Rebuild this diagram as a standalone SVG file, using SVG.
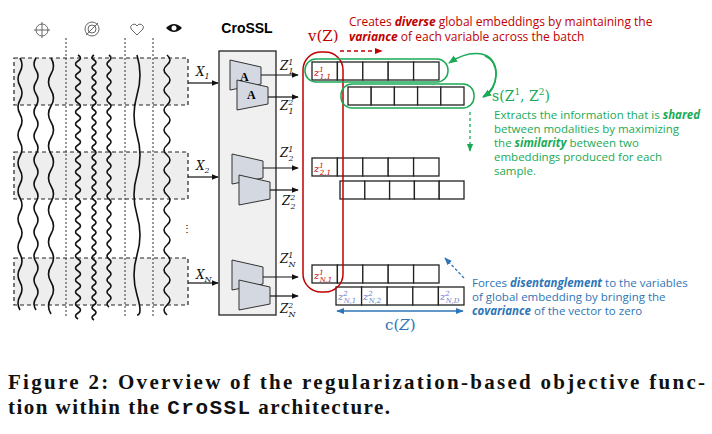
<svg xmlns="http://www.w3.org/2000/svg" width="712" height="434" viewBox="0 0 712 434">
<style>
.sig{fill:none;stroke:#111;stroke-width:1.6}
.dbox{fill:#eeeeee;stroke:#222;stroke-width:1.2;stroke-dasharray:4 3}
.enc{fill:#d4d8e0;stroke:#333;stroke-width:1}
.cell{fill:#fff;stroke:#222;stroke-width:1.3}
.ln{stroke:#111;stroke-width:1.2;fill:none}
.m{font-family:"DejaVu Serif",serif;font-style:italic;font-size:12px;fill:#111}
.red{font-family:"Open Sans","Liberation Sans",sans-serif;font-size:12px;fill:#c00000}
.grn{font-family:"Open Sans","Liberation Sans",sans-serif;font-size:11.5px;fill:#1aaa55}
.blu{font-family:"Open Sans","Liberation Sans",sans-serif;font-size:11.5px;fill:#2e75b6}
.cap{font-family:"Liberation Serif",serif;font-weight:bold;font-size:21px;fill:#111}
</style>
<defs>
<marker id="ah" viewBox="0 0 10 10" refX="9" refY="5" markerWidth="6" markerHeight="6" orient="auto"><path d="M0,1L10,5L0,9z" fill="#111"/></marker>
<marker id="ahg" viewBox="0 0 10 10" refX="9" refY="5" markerWidth="6" markerHeight="6" orient="auto"><path d="M0,1L10,5L0,9z" fill="#1aaa55"/></marker>
<marker id="ahr" viewBox="0 0 10 10" refX="9" refY="5" markerWidth="6" markerHeight="6" orient="auto"><path d="M0,1L10,5L0,9z" fill="#c00000"/></marker>
<marker id="ahb" viewBox="0 0 10 10" refX="9" refY="5" markerWidth="6" markerHeight="6" orient="auto-start-reverse"><path d="M0,1L10,5L0,9z" fill="#2e75b6"/></marker>
</defs>
<g id="signals">
<rect class="dbox" x="14" y="58" width="174" height="47"/>
<rect class="dbox" x="14" y="152" width="174" height="47"/>
<rect class="dbox" x="14" y="258" width="174" height="47"/>
<g stroke="#333" stroke-width="1" stroke-dasharray="2 2">
<line x1="66" y1="38" x2="66" y2="318"/><line x1="125" y1="38" x2="125" y2="318"/><line x1="153" y1="38" x2="153" y2="318"/>
</g>
<path class="sig" d="M20 58 q4 7 0 14 t0 14 t0 14 t0 14 t0 14 t0 14 t0 14 t0 14 t0 14 t0 14 t0 14 t0 14 t0 14 t0 14 t0 14 t0 14 t0 14 t0 14"/>
<path class="sig" d="M36 58 q-4 6 0 12 t0 12 t0 12 t0 12 t0 12 t0 12 t0 12 t0 12 t0 12 t0 12 t0 12 t0 12 t0 12 t0 12 t0 12 t0 12 t0 12 t0 12 t0 12 t0 12 t0 12"/>
<path class="sig" d="M51 58 q5 8 0 16 t0 16 t0 16 t0 16 t0 16 t0 16 t0 16 t0 16 t0 16 t0 16 t0 16 t0 16 t0 16 t0 16 t0 16 t0 16"/>
<path class="sig" d="M78 55 q5 3 0 6 t0 6 t0 6 t0 6 t0 6 t0 6 t0 6 t0 6 t0 6 t0 6 t0 6 t0 6 t0 6 t0 6 t0 6 t0 6 t0 6 t0 6 t0 6 t0 6 t0 6 t0 6 t0 6 t0 6 t0 6 t0 6 t0 6 t0 6 t0 6 t0 6 t0 6 t0 6 t0 6 t0 6 t0 6 t0 6 t0 6 t0 6 t0 6 t0 6 t0 6 t0 6 t0 6 t0 6"/>
<path class="sig" d="M94 55 q-4 2.5 0 5 t0 5 t0 5 t0 5 t0 5 t0 5 t0 5 t0 5 t0 5 t0 5 t0 5 t0 5 t0 5 t0 5 t0 5 t0 5 t0 5 t0 5 t0 5 t0 5 t0 5 t0 5 t0 5 t0 5 t0 5 t0 5 t0 5 t0 5 t0 5 t0 5 t0 5 t0 5 t0 5 t0 5 t0 5 t0 5 t0 5 t0 5 t0 5 t0 5 t0 5 t0 5 t0 5 t0 5 t0 5 t0 5 t0 5 t0 5 t0 5 t0 5 t0 5 t0 5 t0 5"/>
<path class="sig" d="M109 55 q4 3 0 6 t0 6 t0 6 t0 6 t0 6 t0 6 t0 6 t0 6 t0 6 t0 6 t0 6 t0 6 t0 6 t0 6 t0 6 t0 6 t0 6 t0 6 t0 6 t0 6 t0 6 t0 6 t0 6 t0 6 t0 6 t0 6 t0 6 t0 6 t0 6 t0 6 t0 6 t0 6 t0 6 t0 6 t0 6 t0 6 t0 6 t0 6 t0 6 t0 6 t0 6 t0 6"/>
<path class="sig" d="M137 55 q6 20 0 40 t0 40 t0 40 t0 40 t0 40 t0 40 t0 20"/>
<path class="sig" d="M167 55 q6 5 0 10 t0 10 t0 10 t0 10 t0 10 t0 10 t0 10 t0 10 t0 10 t0 10 t0 10 t0 10 t0 10 t0 10 t0 10 t0 10 t0 10 t0 10 t0 10 t0 10 t0 10 t0 10 t0 10 t0 10 t0 10 t0 10"/>
<text x="182" y="232" font-family="Liberation Sans,sans-serif" font-size="10">⋮</text>
<g fill="none" stroke="#666" stroke-width="1">
<circle cx="42" cy="30" r="6"/><line x1="34" y1="30" x2="50" y2="30"/><line x1="42" y1="22" x2="42" y2="38"/>
<circle cx="92" cy="29" r="7"/><circle cx="92" cy="29" r="4"/><line x1="86" y1="35" x2="98" y2="23"/>
<path d="M137 35 l-6 -6 a3 3 0 0 1 6 -3 a3 3 0 0 1 6 3 z"/>
</g>
<path d="M166 28 q8 -8 16 0 q-8 8 -16 0z" fill="#111"/><circle cx="174" cy="28" r="2.5" fill="#fff"/>
</g>
<g id="crossl">
<text x="247" y="33" text-anchor="middle" font-family="Liberation Sans,sans-serif" font-weight="bold" font-size="14">CroSSL</text>
<rect x="219" y="51" width="57" height="264" fill="#f0f0f0" stroke="#222" stroke-width="1.3"/>
<path class="enc" d="M230 60 L261 67 L261 84 L230 90z"/>
<path class="enc" d="M237 80 L268 87 L268 104 L237 110z"/>
<text x="240" y="81" font-family="Liberation Serif,serif" font-weight="bold" font-size="12">A</text>
<text x="247" y="99" font-family="Liberation Serif,serif" font-weight="bold" font-size="12">A</text>
<path class="enc" d="M232 154 L263 161 L263 178 L232 184z"/>
<path class="enc" d="M239 175 L270 182 L270 199 L239 205z"/>
<path class="enc" d="M232 260 L263 267 L263 284 L232 290z"/>
<path class="enc" d="M239 280 L270 287 L270 304 L239 310z"/>
</g>
<g id="connectors">
<line class="ln" x1="188" y1="83" x2="218" y2="83" marker-end="url(#ah)"/>
<line class="ln" x1="188" y1="177" x2="218" y2="177" marker-end="url(#ah)"/>
<line class="ln" x1="188" y1="283" x2="218" y2="283" marker-end="url(#ah)"/>
<line class="ln" x1="261" y1="75" x2="298" y2="75" marker-end="url(#ah)"/>
<line class="ln" x1="268" y1="97" x2="298" y2="97" marker-end="url(#ah)"/>
<line class="ln" x1="263" y1="168" x2="298" y2="168" marker-end="url(#ah)"/>
<line class="ln" x1="270" y1="190" x2="298" y2="190" marker-end="url(#ah)"/>
<line class="ln" x1="263" y1="277" x2="298" y2="277" marker-end="url(#ah)"/>
<line class="ln" x1="270" y1="296" x2="298" y2="296" marker-end="url(#ah)"/>
<line x1="340" y1="51" x2="382" y2="51" stroke="#c00000" stroke-width="1.3" stroke-dasharray="4 3" marker-end="url(#ahr)"/>
<path d="M484 97 C500 88 500 60 485 55 C472 51 458 57 449 63" fill="none" stroke="#1aaa55" stroke-width="1.5" marker-end="url(#ahg)"/>
<path d="M485 56 C500 62 500 86 483 97" fill="none" stroke="#1aaa55" stroke-width="1.5" marker-end="url(#ahg)"/>
<line x1="470" y1="112" x2="470" y2="151" stroke="#1aaa55" stroke-width="1.3" stroke-dasharray="3 3" marker-end="url(#ahg)"/>
<line x1="464" y1="278" x2="445" y2="258" stroke="#2e75b6" stroke-width="1.3" stroke-dasharray="3 2" marker-end="url(#ahb)"/>
<line x1="337" y1="311" x2="463" y2="311" stroke="#2e75b6" stroke-width="1.3" marker-start="url(#ahb)" marker-end="url(#ahb)"/>
</g>
<g id="labels">
<text class="m" x="196" y="76">X<tspan font-size="8" dy="3">1</tspan></text>
<text class="m" x="196" y="170">X<tspan font-size="8" dy="3">2</tspan></text>
<text class="m" x="196" y="279">X<tspan font-size="8" dy="3">N</tspan></text>
<text class="m" x="280" y="70">Z<tspan font-size="8" dy="-5">1</tspan><tspan font-size="8" dx="-5" dy="9">1</tspan></text>
<text class="m" x="280" y="110">Z<tspan font-size="8" dy="-5">2</tspan><tspan font-size="8" dx="-5" dy="9">1</tspan></text>
<text class="m" x="280" y="157">Z<tspan font-size="8" dy="-5">1</tspan><tspan font-size="8" dx="-5" dy="9">2</tspan></text>
<text class="m" x="282" y="205">Z<tspan font-size="8" dy="-5">2</tspan><tspan font-size="8" dx="-5" dy="9">2</tspan></text>
<text class="m" x="280" y="263">Z<tspan font-size="8" dy="-5">1</tspan><tspan font-size="8" dx="-5" dy="9">N</tspan></text>
<text class="m" x="280" y="313">Z<tspan font-size="8" dy="-5">2</tspan><tspan font-size="8" dx="-5" dy="9">N</tspan></text>
</g>
<g id="embeddings">
<g class="cell"><rect x="312" y="62" width="25.4" height="18"/><rect x="337.4" y="62" width="25.4" height="18"/><rect x="362.8" y="62" width="25.4" height="18"/><rect x="388.2" y="62" width="25.4" height="18"/><rect x="413.6" y="62" width="25.4" height="18"/></g>
<g class="cell"><rect x="348" y="87" width="23.2" height="18"/><rect x="371.2" y="87" width="23.2" height="18"/><rect x="394.4" y="87" width="23.2" height="18"/><rect x="417.6" y="87" width="23.2" height="18"/><rect x="440.8" y="87" width="23.2" height="18"/></g>
<g class="cell"><rect x="312" y="158" width="25.4" height="18"/><rect x="337.4" y="158" width="25.4" height="18"/><rect x="362.8" y="158" width="25.4" height="18"/><rect x="388.2" y="158" width="25.4" height="18"/><rect x="413.6" y="158" width="25.4" height="18"/></g>
<g class="cell"><rect x="340" y="181" width="24.8" height="18"/><rect x="364.8" y="181" width="24.8" height="18"/><rect x="389.6" y="181" width="24.8" height="18"/><rect x="414.4" y="181" width="24.8" height="18"/><rect x="439.2" y="181" width="24.8" height="18"/></g>
<g class="cell"><rect x="312" y="265" width="25.4" height="18"/><rect x="337.4" y="265" width="25.4" height="18"/><rect x="362.8" y="265" width="25.4" height="18"/><rect x="388.2" y="265" width="25.4" height="18"/><rect x="413.6" y="265" width="25.4" height="18"/></g>
<g class="cell"><rect x="336" y="287" width="25.6" height="18"/><rect x="361.6" y="287" width="25.6" height="18"/><rect x="387.2" y="287" width="25.6" height="18"/><rect x="412.8" y="287" width="25.6" height="18"/><rect x="438.4" y="287" width="25.6" height="18"/></g>
<g font-family="DejaVu Serif,serif" font-style="italic" font-size="10" fill="#c00000">
<text x="314" y="76">z<tspan font-size="7" dy="-4">1</tspan><tspan font-size="7" dx="-4" dy="7">1,1</tspan></text>
<text x="314" y="172">z<tspan font-size="7" dy="-4">1</tspan><tspan font-size="7" dx="-4" dy="7">2,1</tspan></text>
<text x="314" y="279">z<tspan font-size="7" dy="-4">1</tspan><tspan font-size="7" dx="-4" dy="7">N,1</tspan></text>
</g>
<g font-family="DejaVu Serif,serif" font-style="italic" font-size="10" fill="#6a7fc8">
<text x="338" y="300">z<tspan font-size="7" dy="-4">2</tspan><tspan font-size="7" dx="-4" dy="7">N,1</tspan></text>
<text x="363" y="300">z<tspan font-size="7" dy="-4">2</tspan><tspan font-size="7" dx="-4" dy="7">N,2</tspan></text>
<text x="440" y="300">z<tspan font-size="7" dy="-4">2</tspan><tspan font-size="7" dx="-4" dy="7">N,D</tspan></text>
</g>
<rect x="303" y="52" width="40" height="240" rx="18" fill="none" stroke="#c00000" stroke-width="1.5"/>
<rect x="305" y="59" width="143" height="23" rx="11" fill="none" stroke="#1aaa55" stroke-width="1.5"/>
<rect x="341" y="84" width="133" height="24" rx="11" fill="none" stroke="#1aaa55" stroke-width="1.5"/>
</g>
<g id="annotations">
<text x="308" y="41" font-family="DejaVu Serif,serif" font-size="15" fill="#c00000">v(Z)</text>
<text class="red" x="349" y="26">Creates <tspan font-weight="bold" font-style="italic">diverse</tspan> global embeddings by maintaining the</text>
<text class="red" x="349" y="41"><tspan font-weight="bold" font-style="italic">variance</tspan> of each variable across the batch</text>
<text x="492" y="101" font-family="DejaVu Serif,serif" font-size="14" fill="#1aaa55">s(Z<tspan font-size="9" dy="-6">1</tspan><tspan dy="6">, Z</tspan><tspan font-size="9" dy="-6">2</tspan><tspan dy="6">)</tspan></text>
<text class="grn" x="494" y="119">Extracts the information that is <tspan font-weight="bold" font-style="italic">shared</tspan></text>
<text class="grn" x="494" y="133">between modalities by maximizing</text>
<text class="grn" x="494" y="147">the <tspan font-weight="bold" font-style="italic">similarity</tspan>  between two</text>
<text class="grn" x="494" y="161">embeddings produced for each</text>
<text class="grn" x="494" y="175">sample.</text>
<text class="blu" x="472" y="287">Forces <tspan font-weight="bold" font-style="italic">disentanglement</tspan>  to the variables</text>
<text class="blu" x="472" y="301">of global embedding by bringing the</text>
<text class="blu" x="472" y="315"><tspan font-weight="bold" font-style="italic">covariance</tspan> of the vector to zero</text>
<text x="385" y="330" font-family="DejaVu Serif,serif" font-size="15" fill="#2e75b6">c(<tspan font-style="italic">Z</tspan>)</text>
</g>
<g id="caption">
<text class="cap" x="8" y="389" textLength="697" lengthAdjust="spacing">Figure 2: Overview of the regularization-based objective func-</text>
<text class="cap" x="8" y="414" textLength="382" lengthAdjust="spacing">tion within the <tspan font-family="Liberation Mono,monospace">CroSSL</tspan> architecture.</text>
</g>
</svg>
